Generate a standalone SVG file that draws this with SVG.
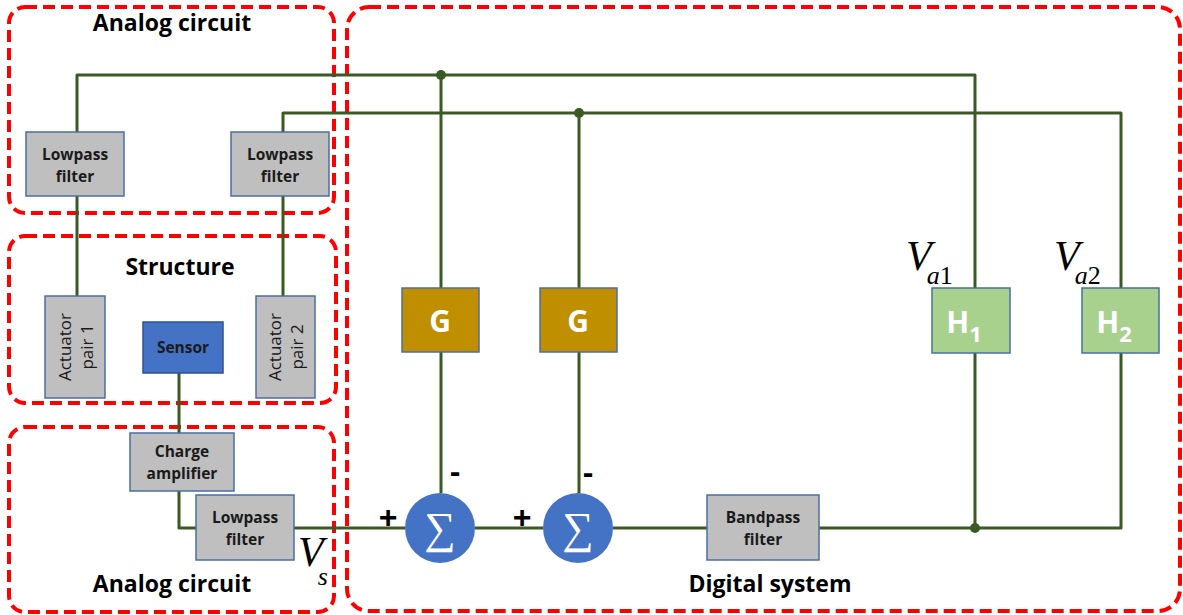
<svg xmlns="http://www.w3.org/2000/svg" width="1183" height="615" viewBox="0 0 1183 615">
<style>
.zone{fill:none;stroke:#FF0000;stroke-width:4;stroke-dasharray:12 6}
.wire{fill:none;stroke:#3B5A23;stroke-width:3;stroke-linejoin:round}
.gray{fill:#BFBFBF;stroke:#4A6FA5;stroke-width:1.5}
.btxt{font-family:"Open Sans","Liberation Sans",sans-serif;font-weight:bold;font-size:15.5px;fill:#1a1a1a;text-anchor:middle}
.vtxt{font-family:"Open Sans","Liberation Sans",sans-serif;font-size:17px;fill:#1a1a1a;text-anchor:middle}
.title{font-family:"Open Sans","Liberation Sans",sans-serif;font-weight:bold;font-size:23px;fill:#000;text-anchor:middle}
.math{font-family:"Liberation Serif",serif;font-style:italic;fill:#000}
.sign{font-family:"Liberation Sans",sans-serif;font-weight:bold;font-size:32px;fill:#000;text-anchor:middle}
.big{font-family:"Open Sans","Liberation Sans",sans-serif;font-weight:bold;font-size:30px;fill:#fff;text-anchor:middle}
</style>
<rect width="1183" height="615" fill="#fff"/>
<g id="zones">
<rect class="zone" x="9" y="7" width="325" height="206" rx="16"/>
<rect class="zone" x="9" y="236" width="327" height="167" rx="16"/>
<rect class="zone" x="9" y="427" width="325" height="185" rx="16"/>
<rect class="zone" x="347" y="7" width="833" height="604" rx="22"/>
</g>
<g id="connectors">
<path class="wire" d="M77,132 V75 H975 V288"/>
<path class="wire" d="M77,196 V296"/>
<path class="wire" d="M283,132 V113 H1121 V288"/>
<path class="wire" d="M283,196 V296"/>
<path class="wire" d="M441,75 V288 M441,352 V493"/>
<path class="wire" d="M579,113 V288 M579,352 V493"/>
<path class="wire" d="M179,373 V433 M179,491 V528 H196"/>
<path class="wire" d="M294,528 H405 M475,528 H543 M613,528 H707"/>
<path class="wire" d="M819,528 H1121 V353 M975,353 V528"/>
<circle cx="441" cy="75" r="5" fill="#3B5A23"/>
<circle cx="579" cy="113" r="5" fill="#3B5A23"/>
<circle cx="975" cy="528" r="5" fill="#3B5A23"/>
</g>
<g id="title-analog-top"><text class="title" x="172" y="31">Analog circuit</text></g>
<g id="title-structure"><text class="title" x="180" y="275">Structure</text></g>
<g id="title-analog-bottom"><text class="title" x="172" y="592">Analog circuit</text></g>
<g id="title-digital"><text class="title" x="770" y="592">Digital system</text></g>
<g id="lpf1"><rect class="gray" x="26" y="132" width="98" height="64"/><text class="btxt" x="75" y="160">Lowpass</text><text class="btxt" x="75" y="182">filter</text></g>
<g id="lpf2"><rect class="gray" x="231" y="132" width="98" height="64"/><text class="btxt" x="280" y="160">Lowpass</text><text class="btxt" x="280" y="182">filter</text></g>
<g id="act1"><rect class="gray" x="45" y="296" width="60" height="102"/><text class="vtxt" transform="translate(75,347) rotate(-90)"><tspan x="0" y="-4">Actuator</tspan><tspan x="0" y="18">pair 1</tspan></text></g>
<g id="act2"><rect class="gray" x="256" y="296" width="59" height="102"/><text class="vtxt" transform="translate(285,347) rotate(-90)"><tspan x="0" y="-4">Actuator</tspan><tspan x="0" y="18">pair 2</tspan></text></g>
<g id="sensor"><rect x="143" y="322" width="80" height="51" fill="#4472C4" stroke="#2F528F" stroke-width="1.5"/><text class="btxt" x="183" y="353">Sensor</text></g>
<g id="charge-amp"><rect class="gray" x="130" y="433" width="104" height="58"/><text class="btxt" x="182" y="457">Charge</text><text class="btxt" x="182" y="479">amplifier</text></g>
<g id="lpf3"><rect class="gray" x="196" y="495" width="98" height="65"/><text class="btxt" x="245" y="523">Lowpass</text><text class="btxt" x="245" y="545">filter</text></g>
<g id="vs"><text class="math" x="298" y="566" font-size="42">V<tspan font-size="26" dx="-6" dy="19">s</tspan></text></g>
<g id="sum1"><circle cx="440" cy="528" r="35" fill="#4472C4"/><text x="440" y="543" font-family="Liberation Serif,serif" font-size="44" fill="#fff" text-anchor="middle">∑</text><text class="sign" x="388" y="528">+</text><text class="sign" x="455" y="482">-</text></g>
<g id="sum2"><circle cx="578" cy="528" r="35" fill="#4472C4"/><text x="578" y="543" font-family="Liberation Serif,serif" font-size="44" fill="#fff" text-anchor="middle">∑</text><text class="sign" x="522" y="528">+</text><text class="sign" x="588" y="483">-</text></g>
<g id="g1"><rect x="402" y="288" width="77" height="64" fill="#BF8F00" stroke="#4A6FA5" stroke-width="1.5"/><text class="big" x="440" y="332">G</text></g>
<g id="g2"><rect x="540" y="288" width="77" height="64" fill="#BF8F00" stroke="#4A6FA5" stroke-width="1.5"/><text class="big" x="578" y="332">G</text></g>
<g id="bpf"><rect class="gray" x="707" y="495" width="112" height="65"/><text class="btxt" x="763" y="523">Bandpass</text><text class="btxt" x="763" y="545">filter</text></g>
<g id="h1"><rect x="932" y="288" width="78" height="65" fill="#A9D18E" stroke="#4A6FA5" stroke-width="1.5"/><text class="big" x="964" y="333">H<tspan font-size="22" dy="9">1</tspan></text></g>
<g id="h2"><rect x="1082" y="288" width="77" height="65" fill="#A9D18E" stroke="#4A6FA5" stroke-width="1.5"/><text class="big" x="1114" y="333">H<tspan font-size="22" dy="9">2</tspan></text></g>
<g id="va1"><text class="math" x="906" y="270" font-size="42">V<tspan font-size="26" dx="-5" dy="14">a</tspan><tspan font-size="26" font-style="normal">1</tspan></text></g>
<g id="va2"><text class="math" x="1054" y="270" font-size="42">V<tspan font-size="26" dx="-5" dy="14">a</tspan><tspan font-size="26" font-style="normal">2</tspan></text></g>
</svg>
